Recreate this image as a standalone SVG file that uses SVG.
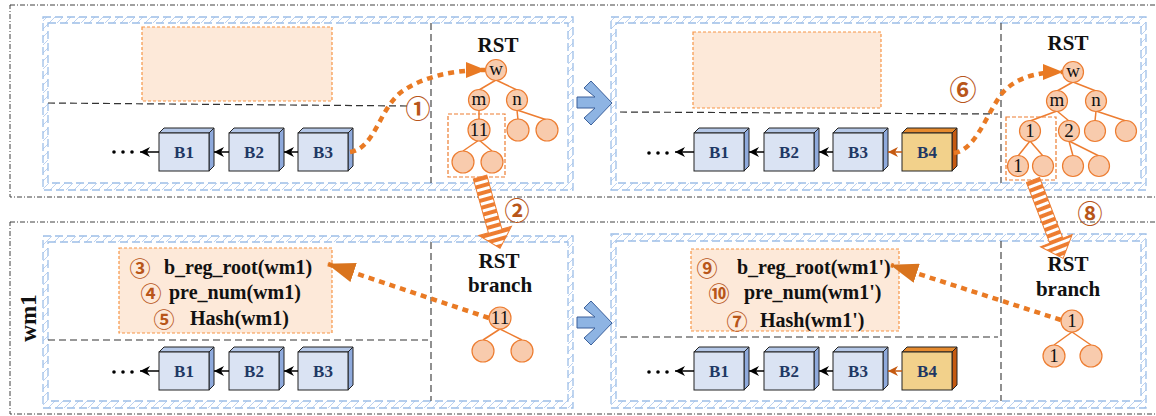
<svg xmlns="http://www.w3.org/2000/svg" width="1156" height="416" viewBox="0 0 1156 416">
<defs>
<style>
.frame{fill:none;stroke:#404040;stroke-width:1;stroke-dasharray:5 2 1 2}
.band{fill:url(#hatch);fill-rule:evenodd}
.bline{fill:none;stroke:#9dbfe8;stroke-width:1.3;stroke-dasharray:8 4}
.div{fill:none;stroke:#555;stroke-width:1.3;stroke-dasharray:7 4}
.hdash{fill:none;stroke:#333;stroke-width:1.2;stroke-dasharray:7 4}
.orect{fill:#fde9d9;stroke:#f79646;stroke-width:1.2;stroke-dasharray:3 2}
.osub{fill:none;stroke:#ed7d31;stroke-width:1.2;stroke-dasharray:4 2}
.nd{fill:#f8cbad;stroke:#ed7d31;stroke-width:1.2}
.ed{stroke:#ed7d31;stroke-width:1.5;fill:none}
.nt{font-family:"Liberation Serif","Times New Roman",serif;font-size:19px;fill:#111;text-anchor:middle}
.bf{fill:#dae3f3;stroke:#222;stroke-width:1}
.bt{fill:#b4c7e7;stroke:#222;stroke-width:1}
.bs{fill:#8faadc;stroke:#222;stroke-width:1}
.gf{fill:#f2d18b;stroke:#222;stroke-width:1}
.gt{fill:#e58a2e;stroke:#222;stroke-width:1}
.gs{fill:#c55a11;stroke:#222;stroke-width:1}
.blab{font-family:"Liberation Serif","Times New Roman",serif;font-size:17px;font-weight:bold;fill:#1f3864;text-anchor:middle}
.lab{font-family:"Liberation Serif","Times New Roman",serif;font-size:21px;font-weight:bold;fill:#111;text-anchor:middle}
.ft{font-family:"Liberation Serif","Times New Roman",serif;font-size:20px;font-weight:bold;fill:#111}
.cn{font-family:"Noto Sans CJK SC","DejaVu Sans",sans-serif;font-size:25px;font-weight:bold;fill:#b8561a;text-anchor:middle;dominant-baseline:central}
.cs{font-size:21px}
.chain{stroke:#000;stroke-width:1.5;fill:none;marker-end:url(#ah)}
.chainb{stroke:#c55a11;stroke-width:1.5;fill:none;marker-end:url(#ahb)}
.dot{fill:#000}
.dotted{fill:none;stroke:#e97a24;stroke-width:4.5;stroke-dasharray:6 5}
.stripe{fill:url(#stripes);stroke:#ed7d31;stroke-width:1}
.chev{fill:#8eb4e3;stroke:#3a5f9a;stroke-width:1}
</style>
<pattern id="hatch" width="8" height="8" patternUnits="userSpaceOnUse"><path d="M0,8 L8,0" stroke="#b5cdee" stroke-width="0.9"/></pattern>
<pattern id="stripes" width="10" height="7" patternUnits="userSpaceOnUse"><rect width="10" height="7" fill="#fff"/><rect width="10" height="4" fill="#ed7d31"/></pattern>
<marker id="ah" viewBox="0 0 10 10" refX="10" refY="5" markerWidth="10" markerHeight="10" markerUnits="userSpaceOnUse" orient="auto"><path d="M0,0 L10,5 L0,10 L3,5 z" fill="#000"/></marker>
<marker id="ahb" viewBox="0 0 10 10" refX="10" refY="5" markerWidth="10" markerHeight="10" markerUnits="userSpaceOnUse" orient="auto"><path d="M0,0 L10,5 L0,10 L3,5 z" fill="#c55a11"/></marker>
<marker id="oh" viewBox="0 0 20 16" refX="19" refY="8" markerWidth="20" markerHeight="16" markerUnits="userSpaceOnUse" orient="auto"><path d="M0,0 L20,8 L0,16 z" fill="#e97a24"/></marker>
<marker id="ohb" viewBox="0 0 28 20" refX="27" refY="10" markerWidth="28" markerHeight="20" markerUnits="userSpaceOnUse" orient="auto"><path d="M0,0 L28,10 L0,20 z" fill="#d9741e"/></marker>
</defs>

<g id="frames">
<rect class="frame" x="10" y="5" width="1150" height="192"/>
<rect class="frame" x="10" y="222" width="1150" height="192"/>
</g>

<g id="panel-top-left">
<path class="band" d="M43,17 h530 v173 h-530 z M48,23 h520 v160 h-520 z"/>
<rect class="bline" x="43" y="17" width="530" height="173"/>
<rect class="bline" x="48" y="23" width="520" height="160"/>
<line class="div" x1="431" y1="23" x2="431" y2="183"/>
<line class="hdash" x1="48" y1="103" x2="408" y2="106"/>
<rect class="orect" x="142" y="27" width="190" height="74"/>
</g>

<g id="panel-top-right">
<path class="band" d="M611,17 h535 v173 h-535 z M616,23 h525 v160 h-525 z"/>
<rect class="bline" x="611" y="17" width="535" height="173"/>
<rect class="bline" x="616" y="23" width="525" height="160"/>
<line class="div" x1="1001" y1="23" x2="1001" y2="183"/>
<line class="hdash" x1="620" y1="112" x2="998" y2="114"/>
<rect class="orect" x="693" y="32" width="188" height="76"/>
</g>

<g id="panel-bottom-left">
<path class="band" d="M43,236 h530 v172 h-530 z M48,242 h520 v159 h-520 z"/>
<rect class="bline" x="43" y="236" width="530" height="172"/>
<rect class="bline" x="48" y="242" width="520" height="159"/>
<line class="div" x1="431" y1="242" x2="431" y2="401"/>
<line class="hdash" x1="48" y1="340" x2="428" y2="340"/>
<rect class="orect" x="119" y="248" width="213" height="85"/>
<text class="cn cs" x="140" y="267">③</text><text class="ft" x="164" y="274">b_reg_root(wm1)</text>
<text class="cn cs" x="151" y="292">④</text><text class="ft" x="169" y="299">pre_num(wm1)</text>
<text class="cn cs" x="164" y="318">⑤</text><text class="ft" x="190" y="325">Hash(wm1)</text>
</g>

<g id="panel-bottom-right">
<path class="band" d="M611,234 h535 v174 h-535 z M616,241 h525 v160 h-525 z"/>
<rect class="bline" x="611" y="234" width="535" height="174"/>
<rect class="bline" x="616" y="241" width="525" height="160"/>
<line class="div" x1="1001" y1="241" x2="1001" y2="401"/>
<line class="hdash" x1="620" y1="337" x2="998" y2="337"/>
<rect class="orect" x="691" y="249" width="208" height="82"/>
<text class="cn cs" x="707" y="267">⑨</text><text class="ft" x="737" y="274">b_reg_root(wm1')</text>
<text class="cn cs" x="719" y="292">⑩</text><text class="ft" x="744" y="299">pre_num(wm1')</text>
<text class="cn cs" x="737" y="320">⑦</text><text class="ft" x="760" y="327">Hash(wm1')</text>
</g>

<g id="label-wm1"><text class="lab" transform="translate(36,318) rotate(-90)" style="font-size:23px">wm1</text></g>

<g id="tl-B1"><polygon class="bt" points="159,133 164,128 214,128 209,133"/><polygon class="bs" points="209,133 214,128 214,166 209,171"/><rect class="bf" x="159" y="133" width="50" height="38"/><text class="blab" x="184" y="158">B1</text></g>
<g id="tl-B2"><polygon class="bt" points="229,133 234,128 284,128 279,133"/><polygon class="bs" points="279,133 284,128 284,166 279,171"/><rect class="bf" x="229" y="133" width="50" height="38"/><text class="blab" x="254" y="158">B2</text></g>
<g id="tl-B3"><polygon class="bt" points="298,133 303,128 353,128 348,133"/><polygon class="bs" points="348,133 353,128 353,166 348,171"/><rect class="bf" x="298" y="133" width="50" height="38"/><text class="blab" x="323" y="158">B3</text></g>
<g id="tl-dots"><circle class="dot" cx="114" cy="152" r="1.8"/><circle class="dot" cx="123" cy="152" r="1.8"/><circle class="dot" cx="132" cy="152" r="1.8"/></g>

<g id="tr-B1"><polygon class="bt" points="694,133 699,128 749,128 744,133"/><polygon class="bs" points="744,133 749,128 749,166 744,171"/><rect class="bf" x="694" y="133" width="50" height="38"/><text class="blab" x="719" y="158">B1</text></g>
<g id="tr-B2"><polygon class="bt" points="764,133 769,128 819,128 814,133"/><polygon class="bs" points="814,133 819,128 819,166 814,171"/><rect class="bf" x="764" y="133" width="50" height="38"/><text class="blab" x="789" y="158">B2</text></g>
<g id="tr-B3"><polygon class="bt" points="833,133 838,128 888,128 883,133"/><polygon class="bs" points="883,133 888,128 888,166 883,171"/><rect class="bf" x="833" y="133" width="50" height="38"/><text class="blab" x="858" y="158">B3</text></g>
<g id="tr-B4"><polygon class="gt" points="902,133 907,128 957,128 952,133"/><polygon class="gs" points="952,133 957,128 957,166 952,171"/><rect class="gf" x="902" y="133" width="50" height="38"/><text class="blab" x="927" y="158">B4</text></g>
<g id="tr-dots"><circle class="dot" cx="649" cy="153" r="1.8"/><circle class="dot" cx="658" cy="153" r="1.8"/><circle class="dot" cx="667" cy="153" r="1.8"/></g>

<g id="bl-B1"><polygon class="bt" points="159,352 164,347 214,347 209,352"/><polygon class="bs" points="209,352 214,347 214,385 209,390"/><rect class="bf" x="159" y="352" width="50" height="38"/><text class="blab" x="184" y="377">B1</text></g>
<g id="bl-B2"><polygon class="bt" points="229,352 234,347 284,347 279,352"/><polygon class="bs" points="279,352 284,347 284,385 279,390"/><rect class="bf" x="229" y="352" width="50" height="38"/><text class="blab" x="254" y="377">B2</text></g>
<g id="bl-B3"><polygon class="bt" points="298,352 303,347 353,347 348,352"/><polygon class="bs" points="348,352 353,347 353,385 348,390"/><rect class="bf" x="298" y="352" width="50" height="38"/><text class="blab" x="323" y="377">B3</text></g>
<g id="bl-dots"><circle class="dot" cx="114" cy="372" r="1.8"/><circle class="dot" cx="123" cy="372" r="1.8"/><circle class="dot" cx="132" cy="372" r="1.8"/></g>

<g id="br-B1"><polygon class="bt" points="694,352 699,347 749,347 744,352"/><polygon class="bs" points="744,352 749,347 749,385 744,390"/><rect class="bf" x="694" y="352" width="50" height="38"/><text class="blab" x="719" y="377">B1</text></g>
<g id="br-B2"><polygon class="bt" points="764,352 769,347 819,347 814,352"/><polygon class="bs" points="814,352 819,347 819,385 814,390"/><rect class="bf" x="764" y="352" width="50" height="38"/><text class="blab" x="789" y="377">B2</text></g>
<g id="br-B3"><polygon class="bt" points="833,352 838,347 888,347 883,352"/><polygon class="bs" points="883,352 888,347 888,385 883,390"/><rect class="bf" x="833" y="352" width="50" height="38"/><text class="blab" x="858" y="377">B3</text></g>
<g id="br-B4"><polygon class="gt" points="902,352 907,347 957,347 952,352"/><polygon class="gs" points="952,352 957,347 957,385 952,390"/><rect class="gf" x="902" y="352" width="50" height="38"/><text class="blab" x="927" y="377">B4</text></g>
<g id="br-dots"><circle class="dot" cx="649" cy="372" r="1.8"/><circle class="dot" cx="658" cy="372" r="1.8"/><circle class="dot" cx="667" cy="372" r="1.8"/></g>

<g id="tl-rst">
<text class="lab" x="498" y="52">RST</text>
<line class="ed" x1="496" y1="80" x2="479" y2="90"/><line class="ed" x1="496" y1="80" x2="517" y2="90"/>
<line class="ed" x1="479" y1="110" x2="479" y2="119"/>
<line class="ed" x1="517" y1="110" x2="518" y2="120"/><line class="ed" x1="517" y1="110" x2="547" y2="120"/>
<line class="ed" x1="479" y1="140" x2="463" y2="151"/><line class="ed" x1="479" y1="140" x2="492" y2="151"/>
<circle class="nd" cx="496" cy="70" r="10.5"/><text class="nt" x="496" y="75">w</text>
<circle class="nd" cx="479" cy="100" r="10.5"/><text class="nt" x="479" y="105">m</text>
<circle class="nd" cx="517" cy="100" r="10.5"/><text class="nt" x="517" y="105">n</text>
<circle class="nd" cx="479" cy="130" r="11"/><text class="nt" x="479" y="136">11</text>
<circle class="nd" cx="518" cy="130" r="11"/>
<circle class="nd" cx="547" cy="130" r="11"/>
<circle class="nd" cx="463" cy="162" r="11"/>
<circle class="nd" cx="492" cy="162" r="11"/>
<rect class="osub" x="448" y="114" width="57" height="63"/>
</g>

<g id="tr-rst">
<text class="lab" x="1068" y="50">RST</text>
<line class="ed" x1="1073" y1="82" x2="1057" y2="91"/><line class="ed" x1="1073" y1="82" x2="1096" y2="91"/>
<line class="ed" x1="1057" y1="111" x2="1030" y2="121"/><line class="ed" x1="1057" y1="111" x2="1069" y2="121"/>
<line class="ed" x1="1096" y1="111" x2="1095" y2="121"/><line class="ed" x1="1096" y1="111" x2="1126" y2="121"/>
<line class="ed" x1="1030" y1="141" x2="1018" y2="156"/><line class="ed" x1="1030" y1="141" x2="1043" y2="156"/>
<line class="ed" x1="1069" y1="141" x2="1073" y2="156"/><line class="ed" x1="1069" y1="141" x2="1099" y2="156"/>
<circle class="nd" cx="1073" cy="72" r="10.5"/><text class="nt" x="1073" y="77">w</text>
<circle class="nd" cx="1057" cy="101" r="10.5"/><text class="nt" x="1057" y="106">m</text>
<circle class="nd" cx="1096" cy="101" r="10.5"/><text class="nt" x="1096" y="106">n</text>
<circle class="nd" cx="1030" cy="131" r="10.5"/><text class="nt" x="1030" y="137">1</text>
<circle class="nd" cx="1069" cy="131" r="10.5"/><text class="nt" x="1069" y="137">2</text>
<circle class="nd" cx="1095" cy="131" r="10.5"/>
<circle class="nd" cx="1126" cy="131" r="10.5"/>
<circle class="nd" cx="1018" cy="166" r="10.5"/><text class="nt" x="1018" y="172">1</text>
<circle class="nd" cx="1043" cy="166" r="10.5"/>
<circle class="nd" cx="1073" cy="166" r="10.5"/>
<circle class="nd" cx="1099" cy="166" r="10.5"/>
<rect class="osub" x="1006" y="117" width="50" height="63"/>
</g>

<g id="bl-branch">
<text class="lab" x="499" y="268">RST</text>
<text class="lab" x="500" y="292">branch</text>
<line class="ed" x1="500" y1="329" x2="483" y2="340"/><line class="ed" x1="500" y1="329" x2="522" y2="340"/>
<circle class="nd" cx="500" cy="318" r="11"/><text class="nt" x="500" y="324">11</text>
<circle class="nd" cx="483" cy="351" r="11"/>
<circle class="nd" cx="522" cy="351" r="11"/>
</g>

<g id="br-branch">
<text class="lab" x="1068" y="271">RST</text>
<text class="lab" x="1068" y="296">branch</text>
<line class="ed" x1="1072" y1="332" x2="1054" y2="345"/><line class="ed" x1="1072" y1="332" x2="1091" y2="345"/>
<circle class="nd" cx="1072" cy="321" r="11"/><text class="nt" x="1072" y="327">1</text>
<circle class="nd" cx="1054" cy="356" r="11"/><text class="nt" x="1054" y="362">1</text>
<circle class="nd" cx="1091" cy="356" r="11"/>
</g>

<g id="connectors">
<line class="chain" x1="229" y1="152" x2="214" y2="152"/>
<line class="chain" x1="298" y1="152" x2="284" y2="152"/>
<line class="chain" x1="159" y1="152" x2="140" y2="152"/>
<line class="chainb" x1="902" y1="152" x2="888" y2="152"/>
<line class="chain" x1="833" y1="152" x2="819" y2="152"/>
<line class="chain" x1="764" y1="152" x2="749" y2="152"/>
<line class="chain" x1="694" y1="152" x2="675" y2="152"/>
<line class="chain" x1="229" y1="371" x2="214" y2="371"/>
<line class="chain" x1="298" y1="371" x2="284" y2="371"/>
<line class="chain" x1="159" y1="371" x2="140" y2="371"/>
<line class="chainb" x1="902" y1="371" x2="888" y2="371"/>
<line class="chain" x1="833" y1="371" x2="819" y2="371"/>
<line class="chain" x1="764" y1="371" x2="749" y2="371"/>
<line class="chain" x1="694" y1="371" x2="675" y2="371"/>
<path class="dotted" marker-end="url(#oh)" d="M350,152 C375,148 378,112 400,93 C420,78 450,70 485,70"/>
<path class="dotted" marker-end="url(#oh)" d="M954,153 C975,150 985,118 1000,96 C1012,80 1032,72 1062,72"/>
<path class="dotted" marker-end="url(#ohb)" d="M489,318 L328,264"/>
<path class="dotted" marker-end="url(#ohb)" d="M1061,320 L891,265"/>
<g transform="translate(480,177) rotate(-15.7)"><polygon class="stripe" points="-7,0 7,0 7,56 17,56 0,74 -17,56 -7,56"/></g>
<g transform="translate(1033,180) rotate(-21)"><polygon class="stripe" points="-7,0 7,0 7,65 17,65 0,84 -17,65 -7,65"/></g>
<polygon class="chev" points="577,97 595,97 584,88 591,81 612,103 591,125 584,118 595,108 577,108"/>
<polygon class="chev" points="577,317 595,317 584,308 591,301 612,323 591,345 584,338 595,328 577,328"/>
</g>

<g id="step-labels">
<text class="cn" x="418" y="107">①</text>
<text class="cn" x="517" y="209">②</text>
<text class="cn" x="963" y="88" style="font-size:27px">⑥</text>
<text class="cn" x="1090" y="212">⑧</text>
</g>
</svg>
